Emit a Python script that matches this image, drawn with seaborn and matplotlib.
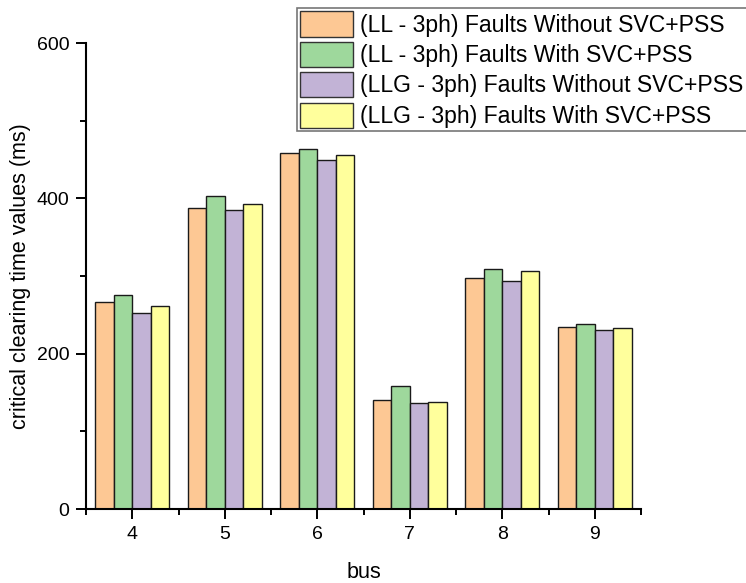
import numpy as np
import pandas as pd
import matplotlib
matplotlib.use("Agg")
import matplotlib.pyplot as plt
import seaborn as sns
from matplotlib.patches import Patch
from matplotlib.ticker import MultipleLocator, FixedLocator

buses = ["4", "5", "6", "7", "8", "9"]
series = [
    "(LL - 3ph) Faults Without SVC+PSS",
    "(LL - 3ph) Faults With SVC+PSS",
    "(LLG - 3ph) Faults Without SVC+PSS",
    "(LLG - 3ph) Faults With SVC+PSS",
]
ll_without = [266, 388, 458, 140, 297, 234]
ll_with = [275, 403, 464, 158, 309, 238]
llg_without = [253, 385, 449, 137, 293, 230]
llg_with = [261, 393, 456, 138, 306, 233]
colors = ["#FDC894", "#9ED89C", "#C2B3D6", "#FFFF9C"]

values = [ll_without, ll_with, llg_without, llg_with]
df = pd.DataFrame({
    "bus": buses * 4,
    "series": [s for s in series for _ in buses],
    "value": [v for vals in values for v in vals],
})

sns.set_style("ticks")
plt.rcParams["font.family"] = ["Liberation Sans", "DejaVu Sans"]
plt.rcParams["text.color"] = "black"
plt.rcParams["axes.labelcolor"] = "black"
plt.rcParams["xtick.color"] = "black"
plt.rcParams["ytick.color"] = "black"

fig = plt.figure(figsize=(7.46, 5.83), dpi=100)
ax = fig.add_axes([86 / 746, 1 - 509 / 583, 555 / 746, 466 / 583])

sns.barplot(data=df, x="bus", y="value", hue="series", hue_order=series,
            order=buses, palette=colors, width=0.8, gap=0, saturation=1,
            edgecolor="#1a1a1a", linewidth=1.0, legend=False, ax=ax)

ax.set_xlim(-0.5, 5.5)
ax.set_ylim(0, 600)
ax.yaxis.set_major_locator(MultipleLocator(200))
ax.yaxis.set_minor_locator(MultipleLocator(100))
ax.xaxis.set_minor_locator(FixedLocator(np.arange(-0.5, 6.0, 1.0)))

for side in ["top", "right"]:
    ax.spines[side].set_visible(False)
for side in ["left", "bottom"]:
    ax.spines[side].set_linewidth(1.5)
    ax.spines[side].set_color("black")

ax.tick_params(axis="both", which="major", direction="out", length=7, width=1.4,
               labelsize=14, pad=5, color="black", labelcolor="black")
ax.tick_params(axis="both", which="minor", direction="out", length=4, width=1.4,
               color="black")

ax.set_xlabel("bus", fontsize=15.5, labelpad=14, color="black")
ax.set_ylabel("critical clearing time values (ms)", fontsize=15.5, labelpad=4,
              color="black")

handles = [Patch(facecolor=c, edgecolor="#333333", linewidth=1.0) for c in colors]
leg = fig.legend(handles, series, loc="upper left",
                 bbox_to_anchor=(297 / 746, 1 - 8 / 583),
                 fontsize=16.6, frameon=True, fancybox=False,
                 handlelength=2.3, handleheight=1.3, labelspacing=0.22,
                 handletextpad=0.3, borderpad=0.15, borderaxespad=0)
leg.get_frame().set_edgecolor("#555555")
leg.get_frame().set_linewidth(1.2)
for t in leg.get_texts():
    t.set_color("black")

fig.savefig("out.png", dpi=100)
